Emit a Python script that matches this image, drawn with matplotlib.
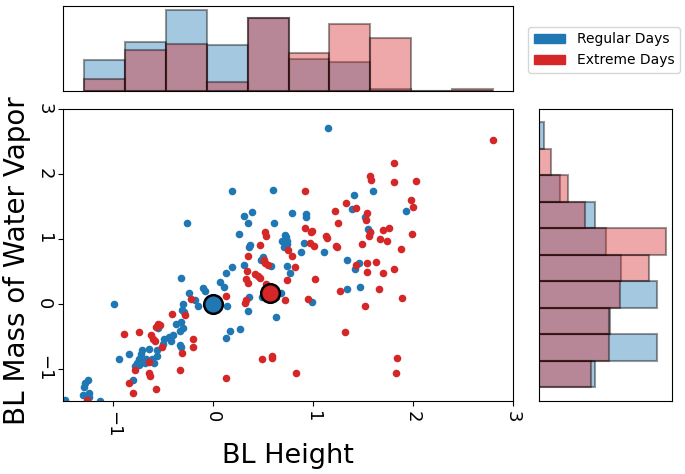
"""Scatter of BL height vs BL water vapour mass with marginal histograms."""

import matplotlib

matplotlib.use("Agg")
import matplotlib.pyplot as plt
import matplotlib.patches as mpatches
import numpy as np

BLUE = "tab:blue"
RED = "tab:red"

# Regular days (standardised anomalies)
regular_x = [
    0.19, 0.60, -0.26, 0.39, 0.31, 0.35, 0.61, 0.26, 0.36, 0.37,
    0.72, 0.73, 0.69, 0.74, 0.71, 0.74, 0.79, 0.93, 0.93, 0.91,
    0.88, 1.11, 1.34, 0.50, 0.48, 0.58, 0.74, 0.77, 0.31, 0.19,
    0.13, 0.07, 0.11, 0.49, 0.63, 0.68, 0.36, 0.14, 0.35, 0.63,
    0.99, 1.34, 1.47, 0.27, 0.17, 0.13, 1.41, 1.60, 1.39, 1.93,
    1.52, 1.55, 1.57, 1.46, 1.42, 1.15,
    -0.32, -0.24, -0.10, -0.08, -0.18, -0.15, -0.30, -0.31, -0.29, -0.99,
    -0.32, -0.37, -0.30, -0.33, -0.40, -0.44, -0.42, -0.49, -0.50, -0.33,
    -0.32, -0.55, -0.56, -0.56, -0.61, -0.59, -0.64, -0.71, -0.72, -0.74,
    -0.76, -0.78, -0.74, -0.67, -0.68, -0.84, -0.94, -0.80, -1.25, -1.28,
    -1.29, -1.30, -1.24, -1.24, -1.13, -1.48,
]
regular_y = [
    1.74, 1.75, 1.25, 1.42, 1.35, 1.25, 1.25, 1.07, 0.88, 0.91,
    1.06, 1.02, 0.97, 0.97, 0.88, 0.92, 1.40, 1.38, 1.34, 0.93,
    0.80, 0.79, 0.68, 0.72, 0.67, 0.58, 0.58, 0.48, 0.60, 0.57,
    0.48, 0.33, 0.26, 0.11, 0.11, 0.17, 0.10, -0.04, -0.12, -0.20,
    0.03, 0.22, 0.26, -0.39, -0.42, -0.53, 1.68, 1.73, 1.46, 1.43,
    1.34, 1.15, 1.10, 0.62, 0.53, 2.71,
    0.39, 0.17, 0.24, 0.20, 0.06, -0.03, 0.00, -0.10, -0.13, 0.00,
    -0.29, -0.31, -0.38, -0.42, -0.48, -0.51, -0.58, -0.55, -0.62, -0.63,
    -0.67, -0.38, -0.71, -0.80, -0.86, -0.91, -0.70, -0.72, -0.78, -0.86,
    -0.91, -0.96, -0.94, -0.85, -0.91, -0.78, -0.85, -1.17, -1.17, -1.22,
    -1.29, -1.41, -1.37, -1.44, -1.50, -1.48,
]

# Extreme days
extreme_x = [
    2.80, 1.81, 1.57, 1.58, 1.81, 2.03, 0.92, 1.33, 1.98, 2.00,
    1.22, 1.43, 1.54, 1.53, 1.25, 0.92, 0.99, 0.98, 0.52, 0.53,
    1.13, 1.14, 1.70, 1.76, 1.57, 1.56, 1.67, 1.74, 1.99, 0.47,
    0.97, 1.01, 1.23, 1.24, 1.49, 0.75, 1.88, 0.79, 0.35, 0.51,
    0.52, 0.55, 0.82, 1.63, 1.54, 1.43, 1.81, 1.54, 1.70, 0.34,
    0.33, 0.35, 0.42, 0.45, 0.47, 0.74, 1.02, 0.53, 1.27, 1.66,
    0.13, 0.72, 0.32, 0.33, 0.95, 1.89, 1.52, 1.32, 1.84, 1.83,
    0.83, 0.49, 0.59, 0.59, 0.13,
    -0.22, -0.41, -0.28, -0.55, -0.53, -0.57, -0.89, -0.74, -0.62, -0.60,
    -0.58, -0.51, -0.20, -0.20, -0.31, -0.64, -0.64, -0.63, -0.78, -0.33,
    -0.84, -0.80, -0.57, -1.26,
]
extreme_y = [
    2.52, 2.17, 1.97, 1.91, 1.87, 1.89, 1.74, 1.55, 1.60, 1.49,
    1.43, 1.47, 1.40, 1.29, 1.25, 1.17, 1.12, 1.10, 1.11, 1.05,
    1.04, 1.01, 1.13, 1.16, 1.11, 1.05, 1.00, 0.97, 1.08, 0.90,
    0.94, 0.89, 0.89, 0.87, 0.92, 0.83, 0.85, 0.73, 0.73, 0.67,
    0.63, 0.60, 0.56, 0.65, 0.63, 0.60, 0.53, 0.49, 0.48, 0.51,
    0.38, 0.32, 0.46, 0.43, 0.40, 0.36, 0.38, 0.31, 0.20, 0.23,
    0.12, 0.06, 0.01, 0.06, 0.07, 0.08, -0.04, -0.43, -0.84, -1.07,
    -1.07, -0.86, -0.80, -0.83, -1.15,
    0.07, -0.16, -0.17, -0.31, -0.33, -0.36, -0.46, -0.44, -0.49, -0.55,
    -0.58, -0.66, -0.54, -0.66, -0.76, -0.90, -1.07, -1.11, -1.02, -1.02,
    -1.23, -1.38, -1.32, -1.49,
]

# Composite means
regular_mean = (0.0, 0.0)
extreme_mean = (0.57, 0.17)

# Marginal histograms (density, 10 shared bins)
bin_lo, bin_hi = -1.29, 2.80
regular_x_hist = [9.5, 14.7, 24.3, 13.8, 21.8, 9.7, 8.8, 0.8, 0.0, 0.0]
extreme_x_hist = [3.7, 12.3, 14.2, 2.7, 21.8, 11.3, 20.0, 16.0, 0.0, 0.8]
regular_y_hist = [16.7, 35.0, 21.2, 35.0, 24.5, 20.0, 16.8, 6.2, 0.0, 1.4]
extreme_y_hist = [15.5, 20.7, 20.7, 24.0, 32.6, 37.7, 13.7, 8.7, 3.4, 0.0]

edges = np.linspace(bin_lo, bin_hi, len(regular_x_hist) + 1)
centers = 0.5 * (edges[:-1] + edges[1:])

fig = plt.figure(figsize=(6.85, 4.74), dpi=100)
ax = fig.add_axes([0.092, 0.154, 0.657, 0.616])
ax_top = fig.add_axes([0.092, 0.807, 0.657, 0.181], sharex=ax)
ax_right = fig.add_axes([0.787, 0.154, 0.194, 0.616], sharey=ax)

ax.scatter(regular_x, regular_y, s=30, color=BLUE, linewidths=0)
ax.scatter(extreme_x, extreme_y, s=30, color=RED, linewidths=0)
ax.scatter(*regular_mean, s=180, color=BLUE, edgecolor="k", linewidths=1.8, zorder=5)
ax.scatter(*extreme_mean, s=180, color=RED, edgecolor="k", linewidths=1.8, zorder=5)

ax.set_xlim(-1.5, 3)
ax.set_ylim(-1.5, 3)
ax.set_xticks([-1, 0, 1, 2, 3])
ax.set_yticks([-1, 0, 1, 2, 3])
ax.tick_params(labelsize=13)
for lab in ax.get_xticklabels() + ax.get_yticklabels():
    lab.set_rotation(-90)
for lab in ax.get_yticklabels():
    lab.set_va("center")
ax.set_xlabel("BL Height", fontsize=19.5)
ax.set_ylabel("BL Mass of Water Vapor", fontsize=20)
ax.yaxis.set_label_coords(-0.072, 0.48)

hist_kw = dict(edgecolor="k", linewidth=1.5, alpha=0.4)
ax_top.hist(centers, bins=edges, weights=regular_x_hist, color=BLUE, **hist_kw)
ax_top.hist(centers, bins=edges, weights=extreme_x_hist, color=RED, **hist_kw)
ax_right.hist(centers, bins=edges, weights=regular_y_hist, color=BLUE,
              orientation="horizontal", **hist_kw)
ax_right.hist(centers, bins=edges, weights=extreme_y_hist, color=RED,
              orientation="horizontal", **hist_kw)

for a in (ax_top, ax_right):
    a.tick_params(left=False, bottom=False, labelleft=False, labelbottom=False)

handles = [
    mpatches.Patch(color=BLUE, label="Regular Days"),
    mpatches.Patch(color=RED, label="Extreme Days"),
]
fig.legend(handles=handles, loc="upper left", bbox_to_anchor=(0.7606, 0.958),
           fontsize=10, handlelength=2.3)

fig.savefig("out.png", dpi=100)
